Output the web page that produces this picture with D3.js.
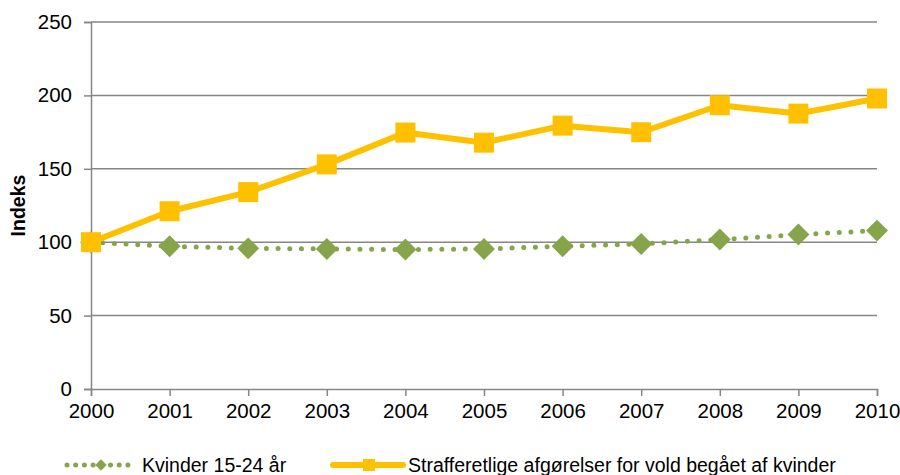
<!DOCTYPE html>
<html>
<head>
<meta charset="utf-8">
<script src="https://cdn.jsdelivr.net/npm/d3@7"></script>
<style>
  body { margin: 0; background: #fff; }
  svg { font-family: "Liberation Sans", Arial, sans-serif; }
</style>
</head>
<body>
<svg id="svg1" width="900" height="475"></svg>
<script>
'use strict'

// chart data
const years = ["2000", "2001", "2002", "2003", "2004", "2005", "2006", "2007", "2008", "2009", "2010"];
const kvinder = [100, 97.2, 95.8, 95.4, 95.0, 95.4, 97.2, 98.8, 101.8, 105.2, 107.9];
const afgorelser = [100, 121.1, 134.1, 153.0, 174.7, 167.8, 179.4, 174.9, 193.3, 187.6, 197.9];
const yTicks = [0, 50, 100, 150, 200, 250];
const seriesNames = ["Kvinder 15-24 år", "Strafferetlige afgørelser for vold begået af kvinder"];

const green = "#86a44a";
const orange = "#ffc000";
const gridColour = "#868686";
const fontFam = "'Liberation Sans', Arial, sans-serif";

/**
 * @function
 * @description draw the whole chart into svg1
 */
function showGraph(){
  let svg    = d3.select("#svg1"),
      margin = {top: 22, right: 23, bottom: 86, left: 91},
      width  = svg.attr("width") - margin.left - margin.right,
      height = svg.attr("height") - margin.top - margin.bottom,
      x      = d3.scalePoint().domain(years).range([0, width]),
      y      = d3.scaleLinear().domain([0, 250]).range([height, 0]),
      g      = svg.append("g").attr("transform", `translate(${margin.left},${margin.top})`);

  // horizontal gridlines (0 is the axis itself)
  g.append("g")
    .selectAll("line")
    .data(yTicks.filter(d => d > 0))
    .enter().append("line")
      .attr("x1", 0)
      .attr("x2", width)
      .attr("y1", d => y(d))
      .attr("y2", d => y(d))
      .attr("stroke", gridColour)
      .attr("stroke-width", 1.5);

  // y axis
  let yAxis = g.append("g")
    .attr("font-family", fontFam)
    .attr("font-size", 20.5)
    .call(d3.axisLeft(y).tickValues(yTicks).tickSize(7).tickPadding(12));
  yAxis.attr("font-family", fontFam).attr("font-size", 20.5);
  yAxis.select(".domain").attr("stroke", gridColour).attr("stroke-width", 1.5);
  yAxis.selectAll(".tick line").attr("stroke", gridColour).attr("stroke-width", 1.5);
  yAxis.selectAll(".tick text").attr("fill", "#000");

  // x axis
  let xAxis = g.append("g")
    .attr("transform", `translate(0,${height})`)
    .call(d3.axisBottom(x).tickSizeOuter(0).tickSize(7).tickPadding(7));
  xAxis.attr("font-family", fontFam).attr("font-size", 20.5);
  xAxis.select(".domain").attr("stroke", gridColour).attr("stroke-width", 1.5);
  xAxis.selectAll(".tick line").attr("stroke", gridColour).attr("stroke-width", 1.5);
  xAxis.selectAll(".tick text").attr("fill", "#000");

  // y axis title
  svg.append("text")
    .attr("transform", `translate(25,${margin.top + height / 2}) rotate(-90)`)
    .attr("text-anchor", "middle")
    .attr("font-size", 19.5)
    .attr("font-weight", "bold")
    .text("Indeks");

  let line = d3.line().x((d, i) => x(years[i])).y(d => y(d));

  // dotted green series
  g.append("path")
    .datum(kvinder)
    .attr("fill", "none")
    .attr("stroke", green)
    .attr("stroke-width", 5)
    .attr("stroke-linecap", "round")
    .attr("stroke-dasharray", "0 11.7")
    .attr("d", line);

  g.selectAll(".diamond")
    .data(kvinder)
    .enter().append("path")
      .attr("class", "diamond")
      .attr("transform", (d, i) => `translate(${x(years[i])},${y(d)}) rotate(45)`)
      .attr("d", d3.symbol().type(d3.symbolSquare).size(15.5 * 15.5))
      .attr("fill", green);

  // solid orange series
  g.append("path")
    .datum(afgorelser)
    .attr("fill", "none")
    .attr("stroke", orange)
    .attr("stroke-width", 6)
    .attr("stroke-linejoin", "round")
    .attr("d", line);

  g.selectAll(".square")
    .data(afgorelser)
    .enter().append("rect")
      .attr("class", "square")
      .attr("x", (d, i) => x(years[i]) - 10)
      .attr("y", d => y(d) - 10)
      .attr("width", 20)
      .attr("height", 20)
      .attr("fill", orange);

  drawLegend(svg);
}

/**
 * @function
 * @description the legend under the plot
 */
function drawLegend(svg){
  let legendY = 465;
  let lg = svg.append("g").attr("font-size", 19.5);

  // green sample: dots with a small diamond
  lg.append("line")
    .attr("x1", 67).attr("x2", 128)
    .attr("y1", legendY).attr("y2", legendY)
    .attr("stroke", green)
    .attr("stroke-width", 5)
    .attr("stroke-linecap", "round")
    .attr("stroke-dasharray", "0 8.7");
  lg.append("path")
    .attr("transform", `translate(101,${legendY}) rotate(45)`)
    .attr("d", d3.symbol().type(d3.symbolSquare).size(64))
    .attr("fill", green);
  lg.append("text")
    .attr("x", 142).attr("y", legendY + 7)
    .text(seriesNames[0]);

  // orange sample: line with a small square
  lg.append("line")
    .attr("x1", 333).attr("x2", 403)
    .attr("y1", legendY).attr("y2", legendY)
    .attr("stroke", orange)
    .attr("stroke-width", 6)
    .attr("stroke-linecap", "round");
  lg.append("rect")
    .attr("x", 363).attr("y", legendY - 6)
    .attr("width", 12).attr("height", 12)
    .attr("fill", orange);
  lg.append("text")
    .attr("x", 408).attr("y", legendY + 7)
    .text(seriesNames[1]);
}

showGraph();
</script>
</body>
</html>
